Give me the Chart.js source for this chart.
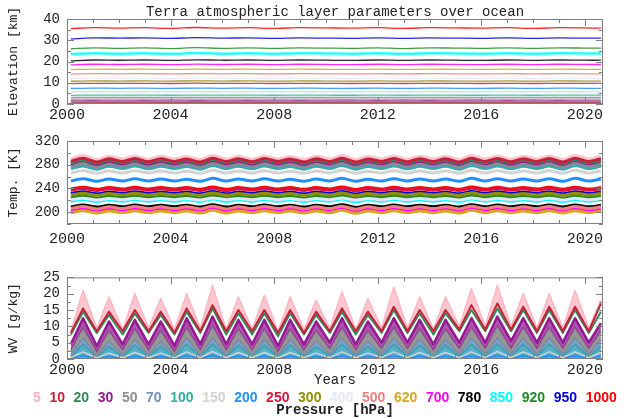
<!DOCTYPE html>
<html lang="en">
<head>
<meta charset="UTF-8">
<title>Terra atmospheric layer parameters over ocean</title>
<style>
  body { margin: 0; background: #fff; width: 640px; height: 419px; position: relative; overflow: hidden; }
  canvas { position: absolute; left: 0; }
  #legend { position: absolute; left: 33px; top: 390px; display: flex; gap: 8.6px;
            font: bold 14px "Liberation Sans", Arial, sans-serif; line-height: 15px; }
  #ptitle { position: absolute; left: 0; width: 670px; top: 402px; text-align: center;
            font: bold 14px "Liberation Mono", "Courier New", monospace; line-height: 16px; color: #222; }
</style>
</head>
<body>

<canvas id="elev" width="640" height="122" style="top:0"></canvas>
<canvas id="temp" width="640" height="122" style="top:125px"></canvas>
<canvas id="wv" width="640" height="128" style="top:262px"></canvas>
<div id="legend"></div>
<div id="ptitle">Pressure [hPa]</div>

<script src="https://cdn.jsdelivr.net/npm/chart.js"></script>
<script>
// pressure levels (legend order) and their colours
const pressures = ['5','10','20','30','50','70','100','150','200','250','300','400','500','620','700','780','850','920','950','1000'];
const colors = ['#ffb6c1','#c8203c','#2e8b57','#931a93','#8c8c8c','#7090bc','#30b0a0','#d3d3d3','#1e90ff','#dc143c',
                '#8f8f00','#e6e6fa','#f08080','#daa520','#ff00ff','#000000','#00ffff','#228b22','#0000dd','#ff0000'];

const yearTicks = [2000, 2004, 2008, 2012, 2016, 2020];
const elevTicks = [0, 10, 20, 30, 40];
const tempTicks = [200, 240, 280, 320];
const wvTicks = [0, 5, 10, 15, 20, 25];

// sample times: yearly for elevation, late-winter / late-summer for temp and WV
const elevYears = [2000.15,2001,2002,2003,2004,2005,2006,2007,2008,2009,2010,2011,2012,2013,2014,2015,2016,2017,2018,2019,2020,2020.62];
const halfYears = [2000.15,2000.62,2001.15,2001.62,2002.15,2002.62,2003.15,2003.62,2004.15,2004.62,2005.15,2005.62,2006.15,2006.62,
                   2007.15,2007.62,2008.15,2008.62,2009.15,2009.62,2010.15,2010.62,2011.15,2011.62,2012.15,2012.62,2013.15,2013.62,
                   2014.15,2014.62,2015.15,2015.62,2016.15,2016.62,2017.15,2017.62,2018.15,2018.62,2019.15,2019.62,2020.15,2020.62];

// elevation [km]
const elev5    = [0.12,0.15,0.13,0.15,0.12,0.15,0.13,0.15,0.12,0.15,0.13,0.12,0.15,0.12,0.15,0.13,0.12,0.15,0.12,0.15,0.13,0.13];
const elev10   = [0.45,0.5,0.48,0.5,0.46,0.5,0.48,0.5,0.46,0.5,0.48,0.46,0.5,0.46,0.5,0.48,0.46,0.5,0.46,0.5,0.48,0.48];
const elev20   = [0.85,0.92,0.9,0.92,0.87,0.93,0.9,0.92,0.87,0.92,0.9,0.87,0.92,0.87,0.92,0.9,0.87,0.92,0.87,0.92,0.9,0.9];
const elev30   = [1.45,1.52,1.5,1.52,1.47,1.53,1.5,1.52,1.47,1.52,1.5,1.47,1.52,1.47,1.52,1.5,1.47,1.52,1.47,1.52,1.5,1.5];
const elev50   = [2.2,2.3,2.25,2.3,2.22,2.3,2.25,2.3,2.22,2.3,2.25,2.22,2.3,2.22,2.3,2.25,2.22,2.3,2.22,2.3,2.25,2.25];
const elev70   = [3.05,3.15,3.1,3.15,3.07,3.16,3.1,3.15,3.07,3.15,3.1,3.07,3.15,3.07,3.15,3.1,3.07,3.15,3.07,3.15,3.1,3.1];
const elev100  = [4.1,4.2,4.15,4.2,4.12,4.22,4.15,4.2,4.12,4.2,4.15,4.12,4.2,4.12,4.2,4.15,4.12,4.2,4.12,4.2,4.15,4.15];
const elev150  = [5.65,5.78,5.72,5.78,5.68,5.8,5.72,5.78,5.68,5.78,5.72,5.68,5.78,5.68,5.78,5.72,5.68,5.78,5.68,5.78,5.72,5.72];
const elev200  = [7.3,7.45,7.4,7.45,7.35,7.48,7.4,7.45,7.35,7.45,7.4,7.35,7.45,7.35,7.45,7.4,7.35,7.45,7.35,7.45,7.4,7.4];
const elev250  = [9.6,9.75,9.7,9.75,9.65,9.78,9.7,9.75,9.65,9.75,9.7,9.65,9.75,9.65,9.75,9.7,9.65,9.75,9.65,9.75,9.7,9.7];
const elev300  = [10.7,10.85,10.8,10.85,10.75,10.88,10.8,10.85,10.75,10.85,10.8,10.75,10.85,10.75,10.85,10.8,10.75,10.85,10.75,10.85,10.8,10.8];
const elev400  = [11.95,12.1,12.05,12.1,12,12.12,12.05,12.1,12,12.1,12.05,12,12.1,12,12.1,12.05,12,12.1,12,12.1,12.05,12.05];
const elev500  = [14.1,14.3,14.2,14.3,14.15,14.32,14.2,14.3,14.15,14.3,14.2,14.15,14.3,14.15,14.3,14.2,14.15,14.3,14.15,14.3,14.2,14.2];
const elev620  = [16.2,16.4,16.3,16.4,16.25,16.42,16.3,16.4,16.25,16.4,16.3,16.25,16.4,16.25,16.4,16.3,16.25,16.4,16.25,16.4,16.3,16.3];
const elev700  = [18.4,18.7,18.6,18.7,18.5,18.75,18.6,18.7,18.5,18.7,18.6,18.5,18.7,18.5,18.7,18.6,18.55,18.7,18.5,18.7,18.6,18.6];
const elev780  = [20.3,20.7,20.6,20.7,20.5,20.8,20.6,20.7,20.5,20.7,20.6,20.5,20.7,20.5,20.7,20.6,20.5,20.7,20.5,20.7,20.6,20.6];
const elev850  = [23.5,23.9,23.7,23.9,23.6,24.0,23.7,23.9,23.7,23.9,23.8,23.7,23.9,23.6,23.9,23.8,23.7,23.9,23.7,23.9,23.8,23.8];
const elev920  = [26.0,26.4,26.2,26.4,26.1,26.5,26.2,26.4,26.2,26.4,26.3,26.2,26.4,26.1,26.4,26.3,26.2,26.4,26.2,26.4,26.3,26.3];
const elev950  = [30.6,31.1,31.0,31.1,30.9,31.2,31.0,31.1,30.9,31.1,31.0,30.9,31.1,30.9,31.1,31.0,30.9,31.1,30.9,31.1,31.0,31.0];
const elev1000 = [35.5,35.9,35.7,35.9,35.6,36.0,35.7,35.9,35.6,35.9,35.8,35.7,35.9,35.6,35.9,35.8,35.7,35.9,35.6,35.9,35.8,35.7];

// temperature [K], winter / summer pairs
const temp5    = [289,294.5,288,293.5,289,294,288.5,293.5,289,293,288,294.5,289,293.5,288.5,294,289,293,288,293.5,289,294.5,288,293,289,294,288.5,293.5,289,293.5,288,294.5,289,294,288.5,293.5,289,294,288,294.5,289,293.5];
const temp10   = [285.5,291,284.5,290,285.5,290.5,285,290,285.5,289.5,284.5,291,285.5,290,285,290.5,285.5,289.5,284.5,290,285.5,291,284.5,289.5,285.5,290.5,285,290,285.5,290,284.5,291,285.5,290.5,285,290,285.5,290.5,284.5,291,285.5,290];
const temp20   = [283.5,288.5,282.5,288,283.5,288.5,283,288,283.5,287.5,282.5,289,283.5,288,283,288.5,283.5,287.5,282.5,288,283.5,289,282.5,287.5,283.5,288.5,283,288,283.5,288,282.5,289,283.5,288.5,283,288,283.5,288.5,282.5,289,283.5,288];
const temp30   = [281.5,287,280.5,286,281.5,286.5,281,286,281.5,285.5,280.5,287,281.5,286,281,286.5,281.5,285.5,280.5,286,281.5,287,280.5,285.5,281.5,286.5,281,286,281.5,286,280.5,287,281.5,286.5,281,286,281.5,286.5,280.5,287,281.5,286];
const temp50   = [279,283.5,278,283,279,283.5,278.5,283,279,282.5,278,284,279,283,278.5,283.5,279,282.5,278,283,279,284,278,282.5,279,283.5,278.5,283,279,283,278,284,279,283.5,278.5,283,279,283.5,278,284,279,283];
const temp70   = [276.5,281,275.5,280.5,276.5,281,276,280.5,276.5,280,275.5,281.5,276.5,280.5,276,281,276.5,280,275.5,280.5,276.5,281.5,275.5,280,276.5,281,276,280.5,276.5,280.5,275.5,281.5,276.5,281,276,280.5,276.5,281,275.5,281.5,276.5,280.5];
const temp100  = [273.5,278,272.5,277.5,273.5,278,273,277.5,273.5,277,272.5,278.5,273.5,277.5,273,278,273.5,277,272.5,277.5,273.5,278.5,272.5,277,273.5,278,273,277.5,273.5,277.5,272.5,278.5,273.5,278,273,277.5,273.5,278,272.5,278.5,273.5,277.5];
const temp150  = [266,270,265.5,269.5,266,270,266,269.5,266,269,265.5,270.5,266,269.5,266,270,266,269,265.5,269.5,266,270.5,265.5,269,266,270,266,269.5,266,269.5,265.5,270.5,266,270,266,269.5,266,270,265.5,270.5,266,269.5];
const temp200  = [252.5,256.5,252,256,252.5,256.5,252.5,256,252.5,255.5,252,257,252.5,256,252.5,256.5,252.5,255.5,252,256,252.5,257,252,255.5,252.5,256.5,252.5,256,252.5,256,252,257,252.5,256.5,252.5,256,252.5,256.5,252,257,252.5,256];
const temp250  = [237,240,236.5,239.5,237,240,237,239.5,237,239.5,236.5,240.5,236,239.5,237,240,237,239.5,236.5,239.5,237,240.5,236,239.5,237,240,237,239.5,237,239.5,236.5,240.5,237,240,237,239.5,237,240,236.5,240,237,239.5];
const temp300  = [229,232,228.5,231.5,229,232,229,231.5,229,231.5,228.5,232.5,228.5,231.5,229,232,229,231.5,228.5,231.5,229,232.5,228,231.5,229,232,229,231.5,229,231.5,228.5,232.5,229,232,229,231.5,229,232,228.5,232,229,231.5];
const temp400  = [221,223.5,220.5,223,221,223.5,221,223,221,223,220.5,224,221,223,221,223.5,221,223,220.5,223,221,224,220.5,223,221,223.5,221,223,221,223,220.5,224,221,223.5,221,223,221,223.5,220.5,223.5,221,223];
const temp500  = [206,209.5,205.5,209,206,209.5,206,209,206,209,205.5,210,205.5,209,206,209.5,206,209,205.5,209,206,210,205,209,206,209.5,206,209,206,209,205.5,210,206,209.5,206,209,206,209.5,205.5,209.5,206,209];
const temp620  = [199,202.5,198.5,202,199,202.5,199,202,199,202,198.5,203,198.5,202,199,202.5,199,202,198.5,202,199,203,198,202,199,202.5,199,202,199,202,198.5,203,199,202.5,199,202,199,202.5,198.5,202.5,199,202];
const temp700  = [202.5,205.5,202,205,202.5,205.5,202.5,205,202.5,205,202,206,202,205,202.5,205.5,202.5,205,202,205,202.5,206,201.5,205,202.5,205.5,202.5,205,202.5,205,202,206,202.5,205.5,202.5,205,202.5,205.5,202,205.5,202.5,205];
const temp780  = [209,212,208.5,211.5,209,212,209,211.5,209,211.5,208.5,212.5,208.5,211.5,209,212,209,211.5,208.5,211.5,209,212.5,208,211.5,209,212,209,211.5,209,211.5,208.5,212.5,209,212,209,211.5,209,212,208.5,212,209,211.5];
const temp850  = [218.5,221.5,218,221,218.5,221.5,218.5,221,218.5,221,218,222,218,221,218.5,221.5,218.5,221,218,221,218.5,222,217.5,221,218.5,221.5,218.5,221,218.5,221,218,222,218.5,221.5,218.5,221,218.5,221.5,218,221.5,218.5,221];
const temp920  = [224.5,227.5,224,227,224.5,227.5,224.5,227,224.5,227,224,228,224,227,224.5,227.5,224.5,227,224,227,224.5,228,223.5,227,224.5,227.5,224.5,227,224.5,227,224,228,224.5,227.5,224.5,227,224.5,227.5,224,227.5,224.5,227];
const temp950  = [231.5,234.5,231,234,231.5,234.5,231.5,234,231.5,234,231,235,231,234,231.5,234.5,231.5,234,231,234,231.5,235,230.5,234,231.5,234.5,231.5,234,231.5,234,231,235,231.5,234.5,231.5,234,231.5,234.5,231,234.5,231.5,234];
const temp1000 = [239,242,238.5,241.5,239,242,239,241.5,239,241.5,238.5,242.5,238.5,241.5,239,242,239,241.5,238.5,241.5,239,242.5,238,241.5,239,242,239,241.5,239,241.5,238.5,242.5,239,242,239,241.5,239,242,238.5,242,239,241.5];

// water vapour [g/kg], winter / summer pairs (upper levels stay near zero)
const wv5   = [8.5,21,9.5,19,9,20,9.5,18.5,9,20,9.5,22.5,9,19,9,19.5,8.5,19,9,18,9.5,20.5,9,18.5,9.5,22,9.5,19,9,19,10,21.5,10,22.5,10,20,9.5,20,9.5,21,9.5,18];
const wv10  = [8,15.5,8.5,14.5,8.5,15,8.5,14.5,8,15.5,8.5,16.5,8.5,15,8.5,15,8,15,8,14.5,8.5,15.5,8.5,14.5,8.5,16,8.5,15,8.5,15,9,16.5,9,17,9,16,8.5,16,8.5,16,8.5,17];
const wv20  = [7.5,14.5,8,13.5,7.5,14,8,13.5,7.5,14.5,8,15.5,7.5,14,7.5,14,7,14,7.5,13.5,8,14.5,7.5,13.5,8,15,8,14,7.5,14,8.5,15,8.5,15.5,8.5,15,8,15,8,15,8,14.5];
const wv30  = [4.5,12.5,4,11.5,4.5,12,4.5,11.5,4,12.5,4.5,13,4.5,12,4.5,12,4,12,4.5,11.5,5,12.5,4.5,11.5,5,12.5,5,12,4.5,12,5,12.5,5,13,5.5,12.5,5,12.5,5,12.5,5,11];
const wv50  = [2.5,9.5,2,8.5,2.5,9,2.5,8.5,2,9.5,2.5,10,2.5,9,2.5,9,2,9,2.5,8.5,3,9.5,2.5,8.5,3,9.5,3,9,2.5,9,3,9.5,3,10,3,9.5,3,9.5,3,9.5,3,8.5];
const wv70  = [1.2,6.5,1,5.5,1.2,6,1.2,5.5,1,6.5,1.2,6.5,1.2,6,1.2,6,1,6,1.2,5.5,1.5,6.5,1.2,5.5,1.5,6.5,1.5,6,1.2,6,1.5,6.5,1.5,6.5,1.5,6.5,1.5,6.5,1.5,6.5,1.5,6];
const wv100 = [0.7,4.5,0.6,3.8,0.7,4.2,0.7,3.8,0.6,4.5,0.7,4.6,0.7,4.2,0.7,4.2,0.6,4.2,0.7,3.8,0.8,4.5,0.7,3.8,0.8,4.5,0.8,4.2,0.7,4.2,0.8,4.5,0.8,4.6,0.8,4.5,0.8,4.5,0.8,4.5,0.8,4];
const wv150 = [0.4,2.2,0.3,1.8,0.4,2,0.4,1.8,0.3,2.2,0.4,2.3,0.4,2,0.4,2,0.3,2,0.4,1.8,0.4,2.2,0.4,1.8,0.4,2.2,0.4,2,0.4,2,0.4,2.2,0.4,2.3,0.4,2.2,0.4,2.2,0.4,2.2,0.4,2];
const wv200 = [0.2,1,0.15,0.8,0.2,0.9,0.2,0.8,0.15,1,0.2,1.1,0.2,0.9,0.2,0.9,0.15,0.9,0.2,0.8,0.2,1,0.2,0.8,0.2,1,0.2,0.9,0.2,0.9,0.2,1,0.2,1.1,0.2,1,0.2,1,0.2,1,0.2,0.9];

const elevSeries = [elev5,elev10,elev20,elev30,elev50,elev70,elev100,elev150,elev200,elev250,elev300,elev400,elev500,elev620,elev700,elev780,elev850,elev920,elev950,elev1000];
const tempSeries = [temp5,temp10,temp20,temp30,temp50,temp70,temp100,temp150,temp200,temp250,temp300,temp400,temp500,temp620,temp700,temp780,temp850,temp920,temp950,temp1000];
const wvSeries = [wv5,wv10,wv20,wv30,wv50,wv70,wv100,wv150,wv200];

Chart.defaults.font.family = '"Liberation Mono", "Courier New", monospace';
Chart.defaults.color = '#222';

const pts = (xs, ys) => ys.map((v, i) => ({ x: xs[i], y: v }));

function rgba(hex, a) {
  const n = parseInt(hex.slice(1), 16);
  return `rgba(${n >> 16},${(n >> 8) & 255},${n & 255},${a})`;
}

// grey box with inward ticks on all four sides
const framePlugin = {
  id: 'frame',
  afterDraw(chart, args, o) {
    const { ctx, chartArea: a } = chart;
    const x = chart.scales.x, y = chart.scales.y;
    ctx.save();
    ctx.strokeStyle = '#808080';
    ctx.lineWidth = 1;
    ctx.strokeRect(a.left + 0.5, a.top + 0.5, a.width - 1, a.height - 1);
    ctx.beginPath();
    for (let yr = 2000; yr <= 2020; yr++) {
      const px = Math.round(x.getPixelForValue(yr)) + 0.5;
      const len = yr % 4 === 0 ? 7 : 4;
      ctx.moveTo(px, a.top); ctx.lineTo(px, a.top + len);
      ctx.moveTo(px, a.bottom); ctx.lineTo(px, a.bottom - len);
    }
    for (let v = y.min; v <= y.max + 1e-6; v += o.step) {
      const py = Math.round(y.getPixelForValue(v)) + 0.5;
      const q = (v - o.base) / o.major;
      const len = Math.abs(q - Math.round(q)) < 1e-6 ? 7 : 4;
      ctx.moveTo(a.left, py); ctx.lineTo(a.left + len, py);
      ctx.moveTo(a.right, py); ctx.lineTo(a.right - len, py);
    }
    ctx.stroke();
    ctx.restore();
  }
};

function panel(id, o) {
  return new Chart(document.getElementById(id), {
    type: 'line',
    data: { datasets: o.datasets },
    options: {
      responsive: false,
      animation: false,
      devicePixelRatio: 1,
      layout: { padding: { top: o.padTop, right: 37, left: 0, bottom: 0 } },
      elements: { point: { radius: 0 }, line: { tension: o.tension, borderJoinStyle: 'round' } },
      plugins: {
        legend: { display: false },
        tooltip: { enabled: false },
        title: o.title || { display: false },
        frame: { step: o.yStep, major: o.yMajor, base: o.yTicks[0] }
      },
      scales: {
        x: {
          type: 'linear', min: 2000, max: 2020.7,
          afterBuildTicks: s => { s.ticks = yearTicks.map(v => ({ value: v })); },
          afterFit: s => { s.height = o.xAxisH; },
          grid: { display: false, drawTicks: false },
          border: { display: false },
          ticks: { font: { size: 15 }, color: '#222', padding: o.xPad, maxRotation: 0, autoSkip: false, callback: v => String(v) },
          title: o.xTitle || { display: false }
        },
        y: {
          min: o.yMin, max: o.yMax,
          afterBuildTicks: s => { s.ticks = o.yTicks.map(v => ({ value: v })); },
          afterFit: s => { s.width = 67; },
          grid: { display: false, drawTicks: false },
          border: { display: false },
          ticks: { font: { size: 14 }, color: '#222', padding: 7, autoSkip: false, callback: v => String(v) },
          title: { display: true, text: o.yTitle, font: { size: 13 }, color: '#222', padding: { top: 6, bottom: 0 } }
        }
      }
    },
    plugins: [framePlugin]
  });
}

// elevation of each pressure level
panel('elev', {
  padTop: 0, xAxisH: 18, xPad: 2, tension: 0.3,
  yMin: 0, yMax: 40, yTicks: elevTicks, yStep: 5, yMajor: 10, yTitle: 'Elevation [km]',
  title: { display: true, text: 'Terra atmospheric layer parameters over ocean', fullSize: false,
           font: { size: 14, weight: 'normal', lineHeight: 1 }, color: '#222', padding: { top: 5, bottom: 0 } },
  datasets: elevSeries.map((ys, i) => ({
    data: pts(elevYears, ys), borderColor: rgba(colors[i], 0.85),
    borderWidth: pressures[i] === '850' ? 2.5 : 1.3
  }))
});

// temperature of each level
panel('temp', {
  padTop: 16, xAxisH: 23, xPad: 6, tension: 0.3,
  yMin: 180, yMax: 320, yTicks: tempTicks, yStep: 20, yMajor: 40, yTitle: 'Temp. [K]',
  datasets: tempSeries.map((ys, i) => ({
    data: pts(halfYears, ys), borderColor: i === 0 ? rgba(colors[0], 0.8) : colors[i],
    borderWidth: i === 0 ? 4 : 3,
    fill: i === 0 ? '+1' : false,
    backgroundColor: rgba(colors[0], 0.5),
    order: i === 0 ? 1 : 0
  }))
});

// water vapour mixing ratio
const wvFill = ['+1', false, false, '+1', '+1', '+1', 'origin', false, false];
const wvBg = [rgba(colors[0], 0.75), null, null, rgba(colors[3], 0.75), rgba(colors[4], 0.9),
              'rgba(95,140,190,0.8)', 'rgba(60,160,195,0.85)', null, null];
const wvWidth = [1.5, 2, 2, 2.5, 2, 2, 2, 1.5, 1.5];
panel('wv', {
  padTop: 13, xAxisH: 31, xPad: 2, tension: 0,
  yMin: 0, yMax: 25, yTicks: wvTicks, yStep: 2.5, yMajor: 5, yTitle: 'WV [g/kg]',
  xTitle: { display: true, text: 'Years', font: { size: 14 }, color: '#222', padding: { top: 0, bottom: 1 } },
  datasets: wvSeries.map((ys, i) => ({
    data: pts(halfYears, ys), borderColor: colors[i], borderWidth: wvWidth[i],
    fill: wvFill[i], backgroundColor: wvBg[i] || 'transparent',
    order: i === 0 ? 1 : (i >= 7 ? -1 : 0)
  }))
});

// coloured pressure legend
const legend = document.getElementById('legend');
pressures.forEach((p, i) => {
  const s = document.createElement('span');
  s.textContent = p;
  s.style.color = colors[i];
  legend.appendChild(s);
});
</script>
</body>
</html>
